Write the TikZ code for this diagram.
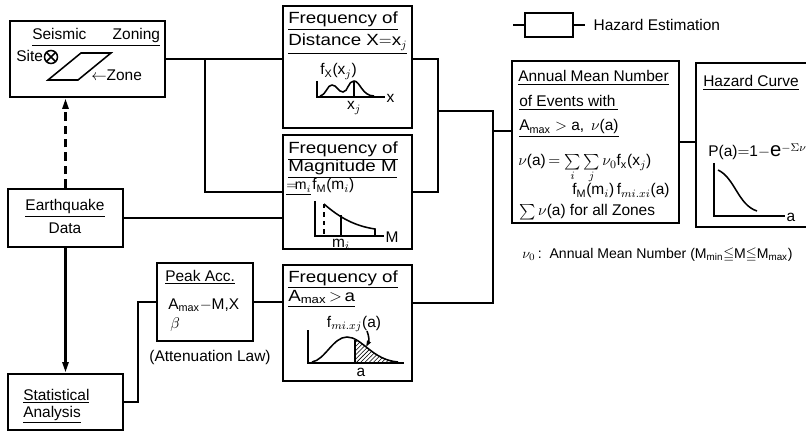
\documentclass[tikz,border=0pt]{standalone}
\usepackage{amsmath, amssymb}
\usepackage{fontspec}
\setmainfont{Liberation Sans}
\newfontfamily\widefont[FakeStretch=1.16]{Liberation Sans}
\usepackage{tikz}
\usetikzlibrary{arrows.meta, positioning, fit, calc, patterns}

\begin{document}
\begin{tikzpicture}[x=0.025cm, y=-0.025cm, font=\fontsize{11}{13}\selectfont,
	blk/.style={draw, line width=2.1pt, inner sep=0pt},
	ln/.style={line width=1.7pt},
	ar/.style={line width=1.7pt, -{Triangle[length=2.6mm, width=1.5mm]}},
	pl/.style={line width=1.1pt},
	tx/.style={inner sep=0pt, anchor=base west},
	ttl/.style={tx, font=\widefont\fontsize{11.5}{13}\selectfont},
	lbl/.style={inner sep=1pt}]

	\useasboundingbox (0,0) rectangle (806,432);
	\clip (0,0) rectangle (806,432);

	% ---------- boxes ----------
	\node[blk, fit={(10,21) (165,97)}]    (zone)   {};
	\node[blk, fit={(283,6) (412,128)}]   (dist)   {};
	\node[blk, fit={(283,135) (412,249)}] (mag)    {};
	\node[blk, fit={(283,265) (412,381)}] (freqa)  {};
	\node[blk, fit={(157,263) (253,341)}] (peak)   {};
	\node[blk, fit={(8,189) (123,247)}]   (quake)  {};
	\node[blk, fit={(8,374) (123,430)}]   (stat)   {};
	\node[blk, fit={(512,61) (679,223)}]  (annual) {};
	\node[blk, fit={(696,63) (840,227)}]  (hazard) {};
	\node[blk, fit={(525,13) (573,37)}]   (legbox) {};

	% ---------- seismic zoning ----------
	\node[tx] (zt) at (32,40) {\underline{Seismic\hspace{1.7em}Zoning}};
	\node[tx] (site) at (16,62) {Site};
	\coordinate (sym) at (51,57);
	\draw[pl] (sym) circle (6.5);
	\draw[pl] ($(sym)+(-4.6,-4.6)$) -- ($(sym)+(4.6,4.6)$);
	\draw[pl] ($(sym)+(-4.6,4.6)$) -- ($(sym)+(4.6,-4.6)$);
	\draw[pl] (48,80) -- (78,80) -- (111,53) -- (81,53) -- cycle;
	\node[tx] (zn) at (91,81) {$\leftarrow$Zone};

	% ---------- distance ----------
	\node[ttl] (dt1) at (288,24) {\underline{Frequency of}};
	\node[ttl] (dt2) at (288,46) {\underline{Distance X$=$x$_j$}};
	\node[tx] (fx) at (320,75) {f\textsubscript{X}(x$_j$)};
	\draw[pl] (317,81) -- (317,97) -- (385,97);
	\draw[pl] (320,96) .. controls (327,94) and (327,85) .. (332,85)
		.. controls (337,85) and (338,92) .. (343,92)
		.. controls (348,92) and (348,81) .. (354,81)
		.. controls (360,81) and (362,96) .. (374,96);
	\draw[pl] (354,97) -- (354,81);
	\node[lbl] (xj) at (354,108) {x$_j$};
	\node[lbl, anchor=west] (xa) at (385,98) {x};

	% ---------- magnitude ----------
	\node[ttl] (mt1) at (288,154) {\underline{Frequency of}};
	\node[ttl] (mt2) at (288,172) {\underline{Magnitude M}};
	\node[tx, font=\fontsize{10}{12}\selectfont] (mt3) at (286,190) {\underline{$=$\!m$_i$}};
	\node[tx] (fm) at (312,190) {f\textsubscript{M}(m$_i$)};
	\draw[pl] (315,201) -- (315,236) -- (384,236);
	\draw[pl, dashed] (324,204) -- (324,236);
	\draw[pl] (324,204) .. controls (340,218) and (355,226) .. (375,229) -- (375,236);
	\draw[pl] (341,215) -- (341,236);
	\node[lbl] (mi) at (341,244) {m$_i$};
	\node[lbl, anchor=west] (ma) at (384,237) {M};

	% ---------- frequency of A_max > a ----------
	\node[ttl] (at1) at (288,282) {\underline{Frequency of}};
	\node[ttl] (at2) at (288,301) {\underline{A\textsubscript{max}\,$>$\,a}};
	\node[lbl] (fa) at (354,324) {f$_{mi.xj}$(a)};
	\begin{scope}
		\clip (355,330) rectangle (404,363);
		\fill[pattern=north east lines] (347,337) .. controls (362,337) and (372,360) .. (398,362)
			-- (398,363) -- (347,363) -- cycle;
	\end{scope}
	\draw[pl] (308,330) -- (308,363) -- (404,363);
	\draw[pl] (312,362) .. controls (325,360) and (333,337) .. (347,337)
		.. controls (362,337) and (372,360) .. (398,362);
	\draw[pl] (355,363) -- (355,339.5);
	\draw[pl, -{Triangle[length=1.6mm, width=1mm]}] (367,331) to[bend left=25] (366,347);
	\node[lbl] (aa) at (361,372) {a};

	% ---------- peak acc. ----------
	\node[tx] (pt1) at (165,281) {\underline{Peak Acc.}};
	\node[tx] (pt2) at (168,309) {A\textsubscript{max}$-$M,X};
	\node[tx] (pt3) at (170,328) {$\beta$};
	\node[lbl] (att) at (210,357) {(Attenuation Law)};

	% ---------- earthquake data / statistics ----------
	\node[lbl] (qt1) at (65,208) {\underline{Earthquake}};
	\node[lbl] (qt2) at (65,228) {Data};
	\node[tx] (st1) at (23,400) {\underline{Statistical}};
	\node[tx] (st2) at (23,417) {\underline{Analysis}};

	% ---------- annual mean number ----------
	\node[tx] (an1) at (518,82) {\underline{Annual Mean Number}};
	\node[tx] (an2) at (519,107) {\underline{of Events with\,}};
	\node[tx] (an3) at (519,131) {\underline{A\textsubscript{max} $>$ a,\, $\nu$(a)}};
	\node[tx] (an4) at (518,166) {$\nu$(a)\,$=\sum\limits_i\sum\limits_j$\,$\nu_0$f\textsubscript{x}(x$_j$)};
	\node[tx] (an5) at (572,195) {f\textsubscript{M}(m$_i$)\,f$_{mi.xi}$(a)};
	\node[tx] (an6) at (519,216) {$\sum\nu$(a) for all Zones};

	% ---------- hazard curve ----------
	\node[tx] (hz1) at (703,87) {\underline{Hazard Curve}};
	\node[tx] (hz2) at (708,157) {P(a)$=$1$-${\Large e}$^{-\Sigma\nu(\mathrm{a})}$};
	\draw[pl] (714,163) -- (714,216) -- (785,216);
	\draw[pl] (718,170) .. controls (735,178) and (738,205) .. (757,211);
	\node[lbl, anchor=west] (hza) at (785,217) {a};

	% ---------- legend and note ----------
	\coordinate (lg1) at (513,25);
	\coordinate (lg2) at (585,25);
	\draw[ln] (lg1) -- (legbox);
	\draw[ln] (legbox) -- (lg2);
	\node[lbl, anchor=west] (lgt) at (592,25) {Hazard Estimation};
	\node[tx, font=\fontsize{10}{12}\selectfont] (note) at (522,258)
		{$\nu_0$\,:\ \ Annual Mean Number (M\textsubscript{min}$\leqq$M$\leqq$M\textsubscript{max})};

	% ---------- connectors ----------
	\coordinate (j1) at (205,59);
	\coordinate (j2) at (138,402);
	\coordinate (j3) at (438,59);
	\coordinate (j4) at (493,111);
	\coordinate (j5) at (493,303);
	\coordinate (j6) at (493,131);
	\draw[ln] (zone.east) -- (zone.east -| dist.west);
	\draw[ln] (j1) |- (mag.west);
	\draw[ln] (quake.east) -- (quake.east -| mag.west);
	\draw[ar] (quake.south) -- (stat.north);
	\draw[ar, dash pattern=on 6pt off 3.5pt] (quake.north) -- (quake.north |- zone.south);
	\draw[ln] (stat.east) -- (j2) |- (peak.west);
	\draw[ln] (peak.east) -- (peak.east -| freqa.west);
	\draw[ln] (dist.east |- j3) -- (j3) |- (mag.east);
	\draw[ln] (j3 |- j4) -- (j4) -- (j5) -- (j5 -| freqa.east);
	\draw[ln] (j6) -- (j6 -| annual.west);
	\draw[ln] (annual.east) -- (annual.east -| hazard.west);
\end{tikzpicture}
\end{document}
